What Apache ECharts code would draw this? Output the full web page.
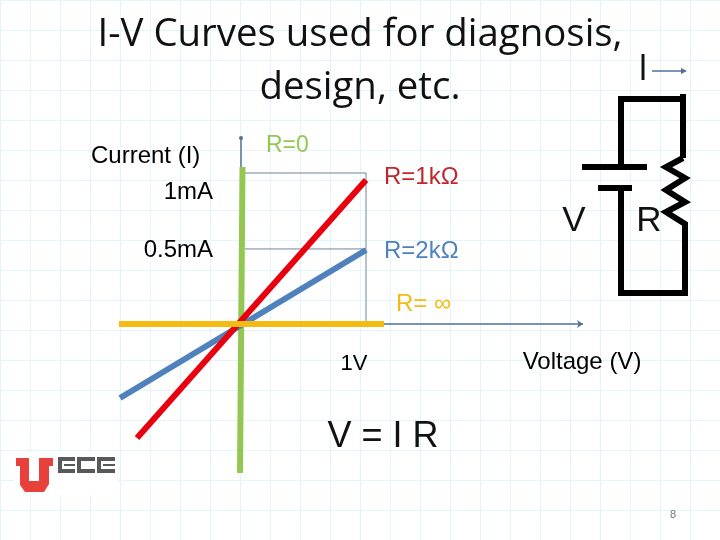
<!DOCTYPE html>
<html><head><meta charset="utf-8">
<style>html,body{margin:0;padding:0;background:#fff}#c{width:720px;height:540px}</style>
<script src="https://cdn.jsdelivr.net/npm/echarts@6/dist/echarts.min.js"></script>
</head><body><div id="c"></div>
<script>
// Data, in volts and milliamps
const rInfinity = [[-0.976, 0], [1.144, 0]];
const rZero = [[-0.008, -0.987], [0.012, 1.04]];
const r1k = [[-0.832, -0.755], [1, 0.954]];
const r2k = [[-0.968, -0.49], [1, 0.49]];
const guide1mA = [[0.03, 1], [1, 1]];
const guideHalfmA = [[0.03, 0.497], [1, 0.497]];
const guide1V = [[1, 0], [1, 1]];
const currentAxis = [[0, 0], [0, 1.232]];
const voltageAxis = [[0, 0], [2.736, 0]];

const titleText = 'I-V Curves used for diagnosis,\ndesign, etc.';
const axisTexts = ['Current (I)', '1mA', '0.5mA', '1V', 'Voltage (V)'];
const resistorLabels = ['R=0', 'R=1kΩ', 'R=2kΩ', 'R= ∞'];

const AXIS = '#4f7296', GUIDE = '#6d87a0', GREEN = '#92c851', RED = '#e8000f', BLUE = '#4f81bd', GOLD = '#f4bb12';
const INK = '#000';

function curve(data, color, width, z) {
  return { type: 'line', data, symbol: 'none', silent: true, animation: false, z, clip: false,
    lineStyle: { color, width, cap: 'butt' } };
}
function axisLine(data, color, sym, size, rot) {
  return { type: 'line', silent: true, animation: false, z: 2, showSymbol: true, symbol: 'none',
    data: [{ value: data[0], symbol: 'none' },
           { value: data[1], symbol: sym, symbolSize: size, symbolRotate: rot, itemStyle: { color } }],
    lineStyle: { color, width: 1.5 } };
}
function txt(text, x, y, size, fill, align, font, extra) {
  return { type: 'text', z: 50, silent: true, style: Object.assign({ text, x, y, fill,
    font: size + 'px ' + (font || '"Liberation Sans"'), textAlign: align || 'left', textVerticalAlign: 'middle' }, extra || {}) };
}
function wire(points, width, color) {
  return { type: 'polyline', z: 40, silent: true, shape: { points },
    style: { stroke: color || INK, lineWidth: width, fill: 'none', lineJoin: 'miter' } };
}

const decor = [
  { type: 'rect', z: 5, silent: true, shape: { x: 14, y: 452, width: 104, height: 43 }, style: { fill: '#fff' } },
  // Circuit
  wire([[621, 165], [621, 99], [683, 99]], 6),
  wire([[683, 94], [683, 158]], 6),
  wire([[683, 158], [666, 167], [685, 178], [666, 190], [685, 202], [666, 212], [685, 224], [685, 293], [621, 293], [621, 188]], 6),
  wire([[582, 167], [647, 167]], 6),
  wire([[598, 188], [632, 188]], 6),
  // Current arrow
  wire([[652, 71], [682, 71]], 1.5, AXIS),
  { type: 'polygon', z: 40, silent: true, shape: { points: [[681, 68], [687, 71], [681, 74]] }, style: { fill: AXIS } },
  // Logo
  { type: 'polygon', z: 40, silent: true,
    shape: { points: [[16, 458], [29, 458], [29, 481], [39, 481], [39, 458], [53, 458], [53, 466], [49, 466], [49, 484], [44, 492], [25, 492], [20, 485], [20, 466], [16, 466]] },
    style: { fill: '#e8403a' } },
  wire([[75, 459], [60, 459], [60, 471], [75, 471]], 4, '#58595b'),
  wire([[64, 465], [75, 465]], 2, '#58595b'),
  wire([[95, 459], [79, 459], [79, 471], [95, 471]], 4, '#58595b'),
  wire([[115, 459], [99, 459], [99, 471], [115, 471]], 4, '#58595b'),
  wire([[103, 465], [115, 465]], 2, '#58595b'),
  // Text
  txt(axisTexts[0], 91, 156, 24, INK),
  txt(axisTexts[1], 213, 192, 24, INK, 'right'),
  txt(axisTexts[2], 213, 250, 24, INK, 'right'),
  txt(axisTexts[3], 354, 364, 22, INK, 'center'),
  txt(axisTexts[4], 582, 362, 24, INK, 'center'),
  txt(resistorLabels[0], 266, 146, 23, GREEN),
  txt(resistorLabels[1], 384, 177, 24, '#c0262c'),
  txt(resistorLabels[2], 384, 251, 24, BLUE),
  txt(resistorLabels[3], 396, 304, 24, GOLD),
  txt('V', 574, 221, 35, '#111', 'center'),
  txt('R', 649, 221, 35, '#111', 'center'),
  txt('I', 643, 70, 36, '#111', 'center', '"Open Sans"'),
  txt('V = I R', 383, 437, 36, '#111', 'center'),
  txt('8', 673, 515, 11, '#777', 'center')
];

const chart = echarts.init(document.getElementById('c'), null, { renderer: 'canvas' });
chart.setOption({
  animation: false,
  backgroundColor: '#fff',
  title: { text: titleText, left: 355, top: 4, textAlign: 'center',
    textStyle: { fontFamily: 'Open Sans', fontSize: 38.4, fontWeight: 'normal', color: '#111', lineHeight: 53 } },
  grid: { left: 0, right: 0, top: 0, bottom: 0 },
  xAxis: [
    { type: 'value', min: -1.928, max: 3.832, show: false },
    { type: 'value', min: 0, max: 720, interval: 30, axisLine: { show: false }, axisTick: { show: false },
      axisLabel: { show: false }, splitLine: { show: true, lineStyle: { color: '#e3f5f9', width: 1 } } }
  ],
  yAxis: [
    { type: 'value', min: -1.4305, max: 2.1457, show: false },
    { type: 'value', min: 0, max: 540, interval: 30, axisLine: { show: false }, axisTick: { show: false },
      axisLabel: { show: false }, splitLine: { show: true, lineStyle: { color: '#e3f5f9', width: 1 } } }
  ],
  series: [
    curve(guide1mA, GUIDE, 1, 2),
    curve(guideHalfmA, GUIDE, 1, 2),
    curve(guide1V, GUIDE, 1, 2),
    axisLine(currentAxis, AXIS, 'circle', 4, 0),
    axisLine(voltageAxis, AXIS, 'arrow', 6, -90),
    curve(rZero, GREEN, 6, 10),
    curve(r2k, BLUE, 6, 11),
    curve(r1k, RED, 6, 12),
    curve(rInfinity, GOLD, 6, 13)
  ],
  graphic: decor
});
</script></body></html>
